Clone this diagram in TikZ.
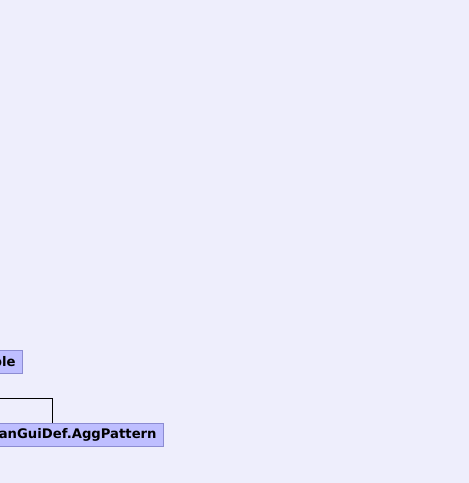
\documentclass[tikz,border=0pt]{standalone}
\usepackage{fontspec}
\setmainfont{DejaVu Sans}
\definecolor{bgc}{RGB}{238,238,252}
\definecolor{boxfill}{RGB}{190,190,255}
\definecolor{boxline}{RGB}{140,140,210}
\begin{document}
\begin{tikzpicture}[x=1pt,y=-1pt,
  cls/.style={draw=boxline, fill=boxfill, line width=0.8pt, rectangle, anchor=east,
    inner xsep=7pt, inner ysep=0pt, minimum height=23pt, text width=#1, align=right,
    font=\fontsize{13.2pt}{14pt}\selectfont\bfseries},
  conn/.style={draw=black, line width=0.9pt}]
\useasboundingbox[fill=bgc] (0,0) rectangle (469,483);
\begin{scope}
\clip (0,0) rectangle (469,483);
\node[cls=80pt] (tbl) at (23,361.5) {ble};
\node[cls=200pt] (agg) at (164,435) {anGuiDef.AggPattern};
\coordinate (src) at (-5,398.3);
\draw[conn] (src) -- (src -| 52.3,0) -- (agg.north -| 52.3,0);
\end{scope}
\end{tikzpicture}
\end{document}
